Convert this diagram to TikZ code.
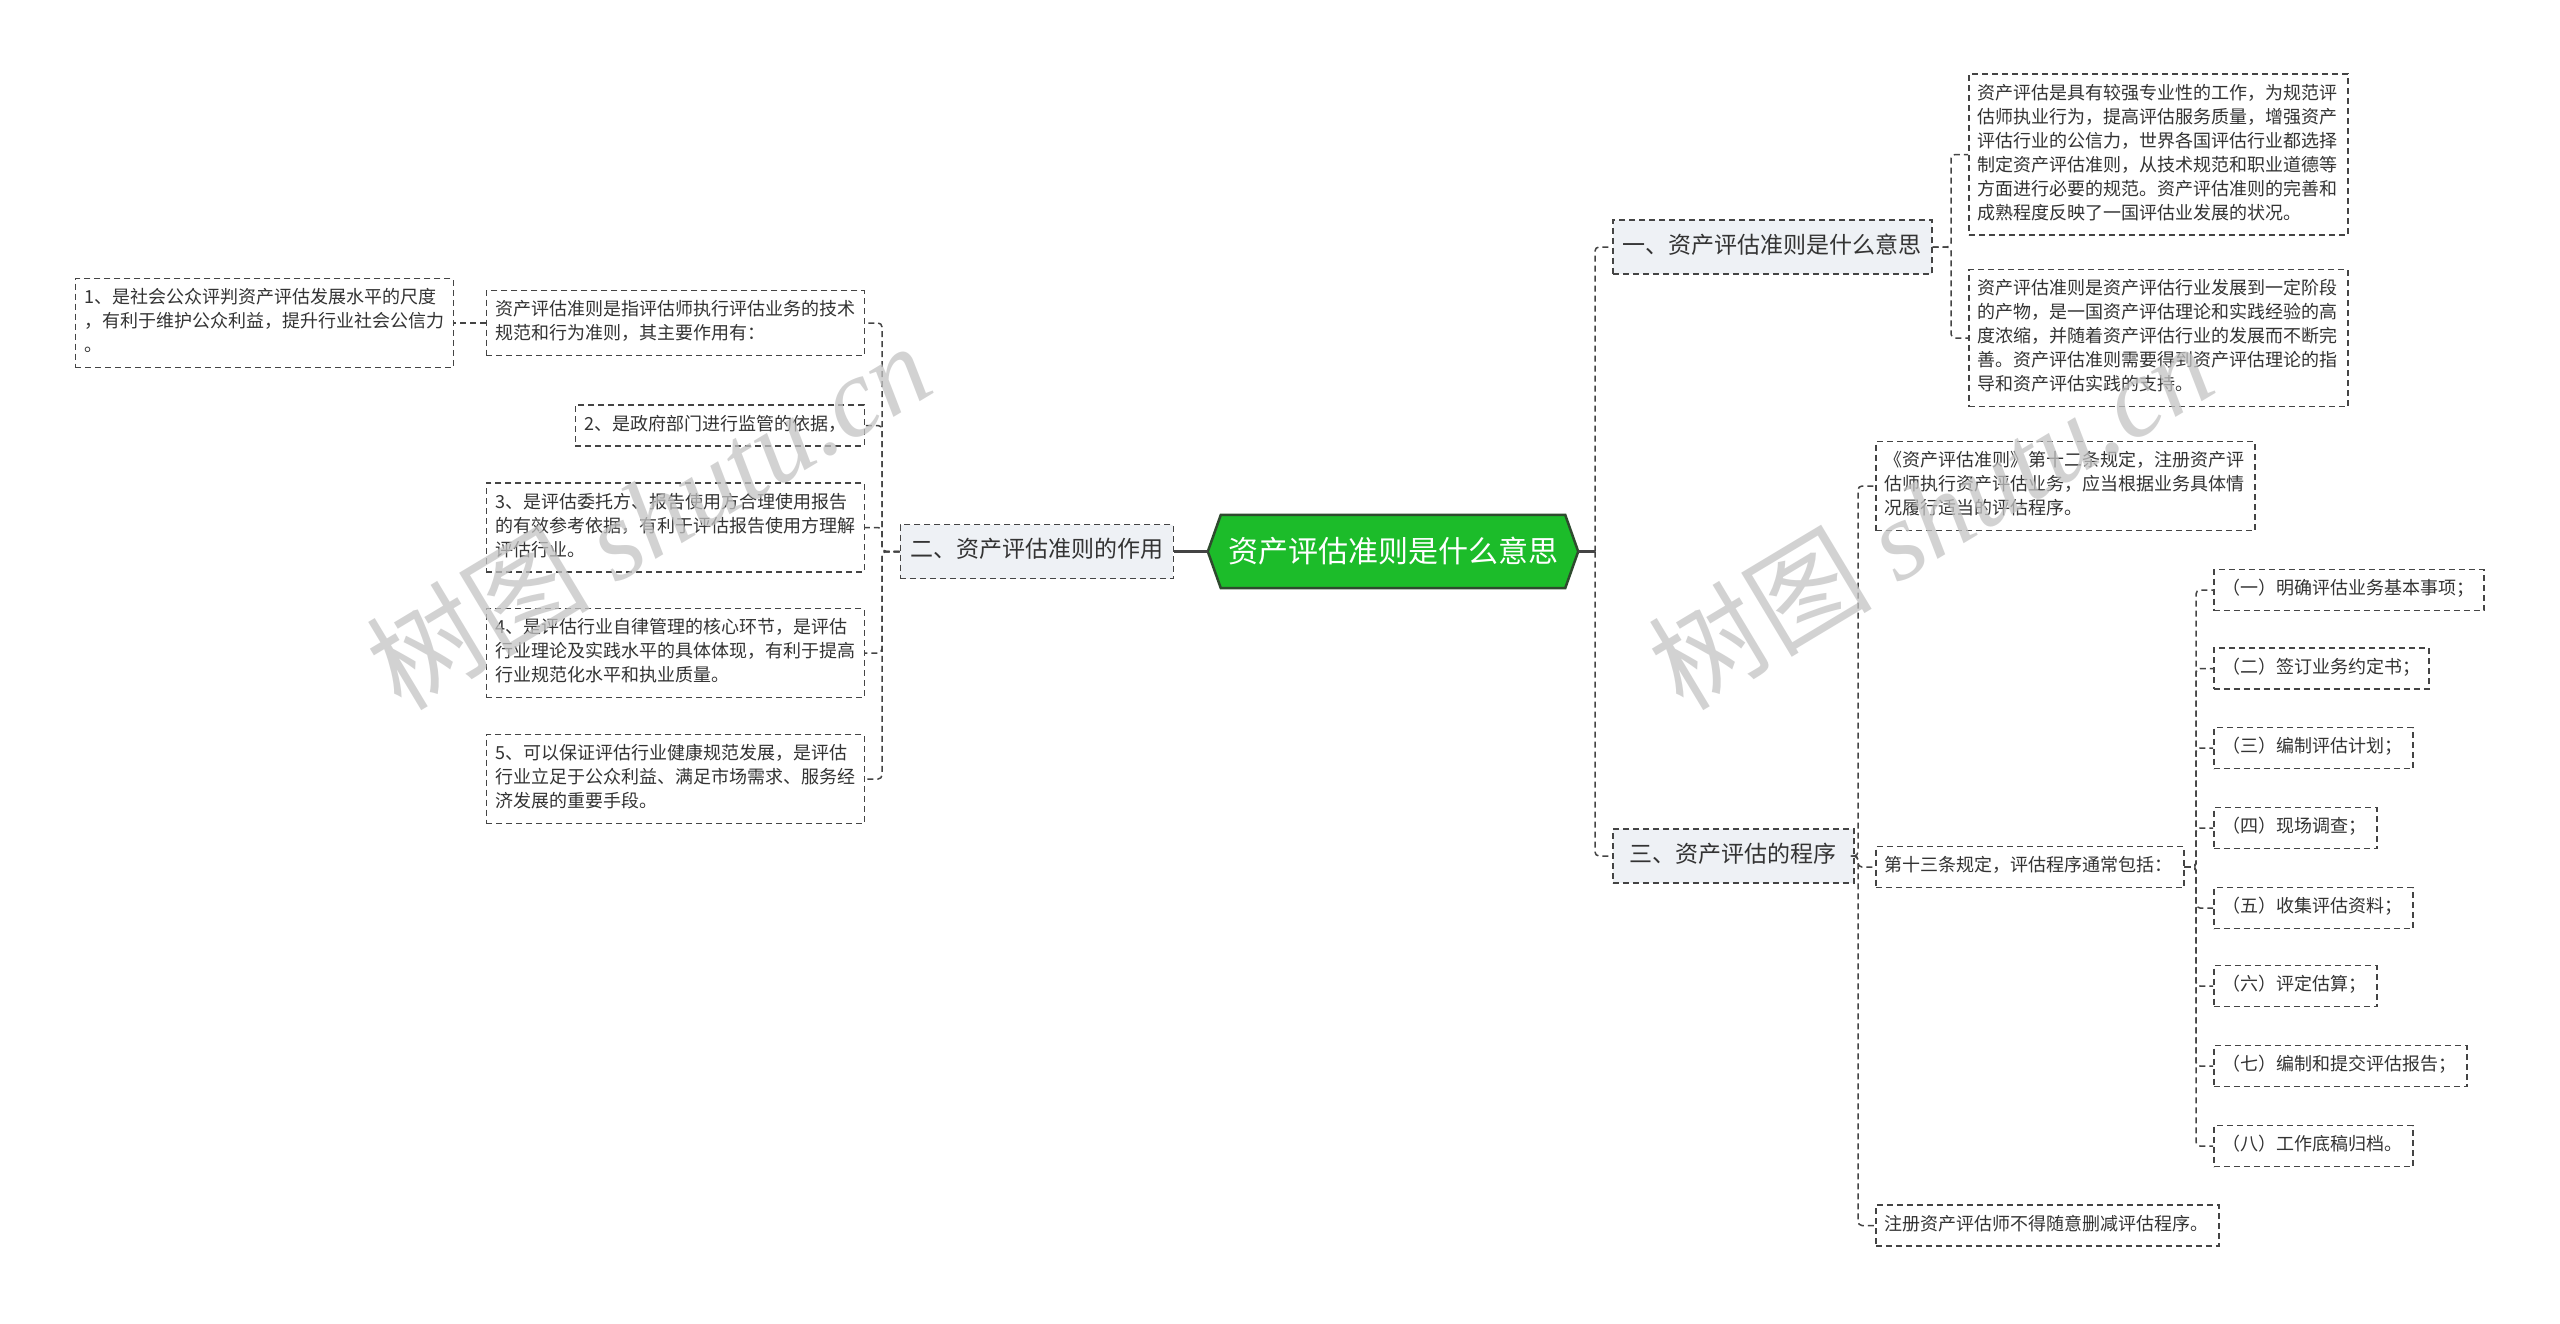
\documentclass[tikz,border=0pt]{standalone}
\usepackage{fontspec}
\setmainfont{Noto Sans CJK SC}
\newfontfamily\wmserif{Liberation Serif}
\usetikzlibrary{calc}
\pgfdeclarelayer{bg}
\pgfsetlayers{bg,main}
\definecolor{txt}{HTML}{333333}
\definecolor{lvl}{HTML}{EEF1F5}
\definecolor{conncol}{HTML}{444444}
\definecolor{hexfill}{HTML}{1CBC2A}
\definecolor{hexline}{HTML}{2E4A2E}
\definecolor{wmcol}{HTML}{C4C4C4}
\begin{document}
\begin{tikzpicture}[x=1pt,y=-1pt,
  leaf/.style={draw=conncol, line width=1.5pt, dash pattern=on 6pt off 4pt,
    font=\fontsize{18}{24}\selectfont, text=txt, inner xsep=9pt, inner ysep=8.5pt,
    align=left, execute at begin node=\strut, execute at end node=\strut},
  lvlone/.style={draw=conncol, line width=1.5pt, dash pattern=on 6pt off 4pt, fill=lvl,
    font=\fontsize{23}{30}\selectfont, text=txt, inner xsep=10pt, inner ysep=12pt,
    execute at begin node=\strut},
  rootnode/.style={font=\fontsize{30}{36}\selectfont, text=white, inner sep=0pt,
    minimum width=370pt, minimum height=73pt},
  conn/.style={draw=conncol, line width=1.5pt, dash pattern=on 6pt off 4pt, rounded corners=4pt},
  solidconn/.style={draw=conncol, line width=2.5pt},
  wm/.style={text=wmcol, opacity=0.75, font=\fontsize{112}{120}\selectfont, inner sep=0pt}
]
\useasboundingbox (0,0) rectangle (2560,1323);
\begin{pgfonlayer}{bg}
\fill[white] (0,0) rectangle (2560,1323);
\end{pgfonlayer}

% root
\node[rootnode] (c) at (1393,551.5) {资产评估准则是什么意思};
\begin{pgfonlayer}{bg}
\draw[fill=hexfill, draw=hexline, line width=2.5pt, line join=miter]
  ([xshift=13pt]c.north west) -- ([xshift=-13pt]c.north east) -- (c.east)
  -- ([xshift=-13pt]c.south east) -- ([xshift=13pt]c.south west) -- (c.west) -- cycle;
\end{pgfonlayer}

% left branch
\node[lvlone, anchor=east] (er) at (1174,551.5) {二、资产评估准则的作用};
\node[leaf, anchor=east, text width=360pt] (zhi) at (865,323) {资产评估准则是指评估师执行评估业务的技术\\规范和行为准则，其主要作用有：};
\node[leaf, anchor=east, text width=360pt] (b1) at (454,323) {1、是社会公众评判资产评估发展水平的尺度\\，有利于维护公众利益，提升行业社会公信力\\。};
\node[leaf, anchor=east, text width=271pt] (b2) at (865,425.5) {2、是政府部门进行监管的依据，};
\node[leaf, anchor=east, text width=360pt] (b3) at (865,527.5) {3、是评估委托方、报告使用方合理使用报告\\的有效参考依据，有利于评估报告使用方理解\\评估行业。};
\node[leaf, anchor=east, text width=360pt] (b4) at (865,653) {4、是评估行业自律管理的核心环节，是评估\\行业理论及实践水平的具体体现，有利于提高\\行业规范化水平和执业质量。};
\node[leaf, anchor=east, text width=360pt] (b5) at (865,779) {5、可以保证评估行业健康规范发展，是评估\\行业立足于公众利益、满足市场需求、服务经\\济发展的重要手段。};

% right branch
\node[lvlone, anchor=west] (yi) at (1612,247) {一、资产评估准则是什么意思};
\node[leaf, anchor=west, text width=361pt] (bA) at (1968,154.5) {资产评估是具有较强专业性的工作，为规范评\\估师执业行为，提高评估服务质量，增强资产\\评估行业的公信力，世界各国评估行业都选择\\制定资产评估准则，从技术规范和职业道德等\\方面进行必要的规范。资产评估准则的完善和\\成熟程度反映了一国评估业发展的状况。};
\node[leaf, anchor=west, text width=361pt] (bB) at (1968,338) {资产评估准则是资产评估行业发展到一定阶段\\的产物，是一国资产评估理论和实践经验的高\\度浓缩，并随着资产评估行业的发展而不断完\\善。资产评估准则需要得到资产评估理论的指\\导和资产评估实践的支持。};
\node[lvlone, anchor=west, minimum width=241pt] (san) at (1612,856) {三、资产评估的程序};
\node[leaf, anchor=west, text width=361pt] (bC) at (1875,486) {《资产评估准则》第十二条规定，注册资产评\\估师执行资产评估业务，应当根据业务具体情\\况履行适当的评估程序。};
\node[leaf, anchor=west, text width=290pt] (bD) at (1875,867) {第十三条规定，评估程序通常包括：};
\node[leaf, anchor=west, text width=325pt] (bE) at (1875,1225.5) {注册资产评估师不得随意删减评估程序。};

\node[leaf, anchor=west, text width=252pt] (i1) at (2213,590) {（一）明确评估业务基本事项；};
\node[leaf, anchor=west, text width=197pt] (i2) at (2213,668.5) {（二）签订业务约定书；};
\node[leaf, anchor=west, text width=181pt] (i3) at (2213,748) {（三）编制评估计划；};
\node[leaf, anchor=west, text width=145pt] (i4) at (2213,828) {（四）现场调查；};
\node[leaf, anchor=west, text width=181pt] (i5) at (2213,908) {（五）收集评估资料；};
\node[leaf, anchor=west, text width=145pt] (i6) at (2213,986) {（六）评定估算；};
\node[leaf, anchor=west, text width=235pt] (i7) at (2213,1066) {（七）编制和提交评估报告；};
\node[leaf, anchor=west, text width=181pt] (i8) at (2213,1146) {（八）工作底稿归档。};

% spines
\coordinate (sL) at (882,0);
\coordinate (sR) at (1595,0);
\coordinate (sA) at (1951,0);
\coordinate (sC) at (1858,0);
\coordinate (sI) at (2196,0);

% connectors
\draw[solidconn] (er.east) -- (c.west);
\draw[solidconn] (c.east) -- (c.east -| sR);
\foreach \n in {yi,san} \draw[conn] (c.east -| sR) |- (\n.west);
\foreach \n in {zhi,b2,b3,b4,b5} \draw[conn] (er.west) -- (er.west -| sL) |- (\n.east);
\draw[conn] (zhi.west) -- (b1.east);
\foreach \n in {bA,bB} \draw[conn] (yi.east) -- (yi.east -| sA) |- (\n.west);
\foreach \n in {bC,bD,bE} \draw[conn] (san.east) -- (san.east -| sC) |- (\n.west);
\foreach \n in {i1,i2,i3,i4,i5,i6,i7,i8} \draw[conn] (bD.east) -- (bD.east -| sI) |- (\n.west);

% watermarks
\node[wm, rotate=31] (wm1) at (648,515) {树图 {\wmserif\itshape shutu.cn}};
\node[wm, rotate=31] (wm2) at (1930,515) {树图 {\wmserif\itshape shutu.cn}};
\end{tikzpicture}
\end{document}
